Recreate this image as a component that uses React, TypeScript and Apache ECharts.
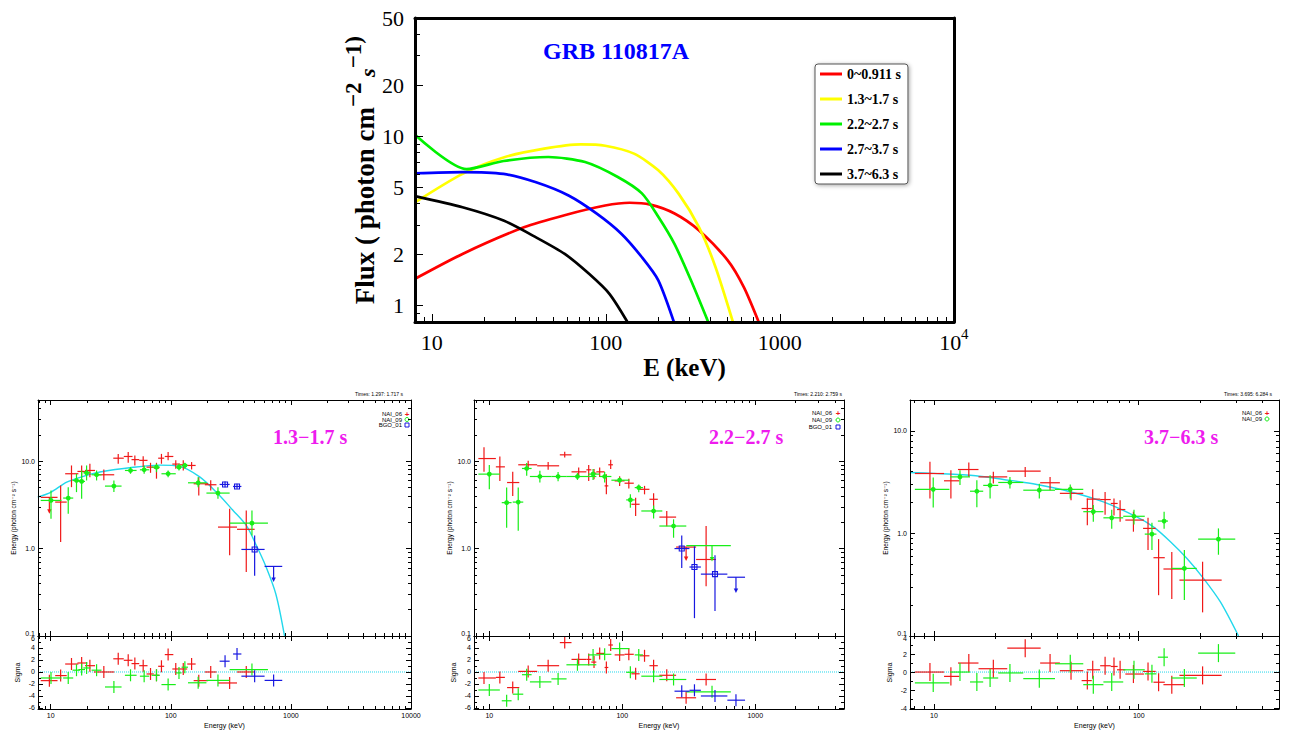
import React, { useEffect, useRef } from "react";
import * as echarts from "echarts";

const lg = (v: number) => Math.log10(v);
const SERIF = "'Liberation Serif', 'Times New Roman', serif";
const SANS = "'Liberation Sans', 'DejaVu Sans', Arial, sans-serif";

// ================= TOP PANEL: model spectra, [E (keV), flux] =================
const TOP_NAMES = ["0~0.911 s", "1.3~1.7 s", "2.2~2.7 s", "2.7~3.7 s", "3.7~6.3 s"];
const TOP_COLORS = ["#ff0000", "#ffff00", "#00f000", "#0000ff", "#000000"];
const TOP_0_0911 = [[8, 1.44], [15, 2.02], [33.8, 2.9], [57.9, 3.42], [99, 3.9], [137, 4.05], [180, 3.95], [248, 3.5], [343, 2.78], [501, 1.85], [621, 1.28], [770, 0.76]];
const TOP_13_17 = [[8, 4.07], [15, 6.0], [25.8, 7.5], [44.2, 8.45], [71.8, 8.95], [99, 8.8], [145, 7.9], [200, 6.3], [262, 4.57], [343, 2.9], [426, 1.69], [545, 0.76]];
const TOP_22_27 = [[8, 10.2], [15.8, 6.4], [25.8, 7.15], [46.7, 7.55], [75.9, 7.05], [117, 5.75], [161, 4.6], [200, 3.35], [248, 2.31], [308, 1.41], [395, 0.76]];
const TOP_27_37 = [[8, 6.05], [15, 6.15], [25.8, 6.0], [39.7, 5.35], [61, 4.47], [89, 3.48], [123, 2.65], [161, 1.93], [200, 1.41], [250, 0.76]];
const TOP_37_63 = [[8, 4.43], [15, 3.81], [25.8, 3.18], [39.7, 2.53], [58, 2.02], [80, 1.54], [105, 1.17], [137, 0.76]];
const TOP_E_RANGE = [8, 10000];
const TOP_F_RANGE = [0.8, 50];
const TOP_X_LABELS = [10, 100, 1000, 10000];
const TOP_Y_LABELS = [1, 2, 5, 10, 20, 50];
const TOP_Y_MINOR = [0.9, 3, 4, 6, 7, 8, 9, 30, 40];

// ================= BOTTOM PANELS =================
// crosses: [E, Elo, Ehi, F, Flo, Fhi, sigma]; upper limits: [E, Elo, Ehi, F, Farrow, sigma]
const P1_NAI06 = [
  [12.1, 10.9, 13.6, 3.40, 1.19, 5.27, -0.6], [14.9, 13.2, 17.0, 7.17, 5.04, 8.92, 1.33],
  [18.1, 16.7, 20.2, 7.62, 6.56, 8.92, 1.5], [21.2, 19.3, 23.4, 7.82, 6.56, 9.33, 1.05],
  [27.7, 22.9, 33.8, 6.98, 6.03, 8.03, 0], [36.5, 33.2, 40.6, 10.8, 9.33, 12.1, 2.2],
  [44.2, 40.6, 48.0, 11.3, 9.57, 12.7, 1.95], [50.2, 47.1, 54.6, 10.4, 8.92, 11.6, 1.4],
  [58.9, 54.6, 64.0, 10.2, 8.53, 11.4, 1.05], [67.8, 62.8, 72.2, 8.53, 7.35, 9.57, -0.33],
  [76.0, 72.2, 80.0, 8.32, 6.3, 9.57, -0.55], [83.6, 78.5, 88.1, 10.8, 9.33, 12.1, 0.95],
  [95.0, 89.1, 105, 11.3, 10.2, 12.7, 2.9], [110, 103, 119, 9.25, 8.17, 10.2, 0.5],
  [127, 119, 137, 9.08, 7.82, 10.2, 0.5], [149, 137, 161, 8.92, 8.03, 9.75, 1.33],
  [171, 155, 204, 5.51, 4.05, 6.56, -1.44], [215, 192, 240, 5.37, 4.62, 6.03, 0],
  [309, 247, 356, 1.76, 0.836, 2.85, -1.83], [425, 356, 499, 1.66, 0.54, 2.73, 0],
];
const P1_NAI06_UL = [[9.75, 8.26, 11.4, 3.85, 2.5, -1.44]];
const P1_NAI09 = [
  [10.06, 8.26, 12.3, 3.55, 2.19, 4.62, -1.0], [14.0, 12.7, 15.4, 3.78, 2.5, 5.04, -1.0],
  [16.4, 15.2, 17.5, 6.0, 4.42, 7.17, 0.3], [18.1, 17.0, 19.3, 5.86, 3.71, 7.82, 0.4],
  [19.9, 18.7, 21.5, 7.35, 6.01, 8.92, 0.67], [24.1, 21.9, 26.5, 6.98, 6.01, 7.82, 0.3],
  [33.6, 28.3, 38.9, 5.18, 4.42, 6.01, -2.5], [46.2, 41.5, 51.9, 7.82, 7.17, 8.53, -0.55],
  [60.0, 55.3, 66.1, 7.96, 7.17, 8.92, -0.7], [76.0, 69.1, 81.1, 8.53, 7.48, 9.33, -0.55],
  [95.0, 83.6, 110, 7.17, 6.56, 7.82, -2.1], [117, 110, 123, 8.53, 7.82, 9.33, -0.15],
  [131, 123, 139, 8.92, 8.17, 9.57, 0.8], [169, 139, 198, 5.65, 5.04, 6.56, -1.8],
  [247, 198, 309, 4.31, 3.71, 5.04, -1.4], [474, 309, 644, 1.95, 1.41, 2.73, 0.4],
];
const P1_BGO01 = [
  [283, 255, 309, 5.41, 5.04, 5.86, 1.8], [356, 330, 387, 5.13, 4.83, 5.51, 3.0],
  [499, 387, 604, 0.977, 0.49, 1.41, -0.7],
];
const P1_BGO01_UL = [[718, 604, 847, 0.625, 0.414, -1.4]];
const P1_MODEL = [[7.8, 3.88], [10, 4.4], [13.6, 5.75], [18.7, 6.7], [25.7, 7.5], [48.7, 8.5], [81, 9.0], [119, 8.7], [174, 6.6], [240, 4.4], [330, 2.73], [425, 1.84], [515, 1.09], [620, 0.62], [750, 0.3], [885, 0.1]];

const P2_NAI06 = [
  [9.12, 8.27, 11.2, 10.7, 7.54, 14.4, -1.0], [12.0, 11.2, 13.1, 8.6, 5.94, 11.3, -0.9],
  [15.0, 13.6, 16.8, 5.69, 4.0, 7.54, -2.6], [19.6, 16.5, 22.9, 9.08, 8.1, 10.1, 0.1],
  [27.7, 22.9, 33.5, 8.84, 7.95, 9.8, 1.05], [36.9, 33.9, 41.5, 11.8, 11.0, 12.8, 4.9],
  [47.0, 41.5, 53.7, 7.54, 6.66, 8.45, 2.1], [55.9, 53.7, 58.5, 7.95, 5.94, 9.0, 2.1],
  [61.3, 58.5, 63.8, 7.28, 6.2, 8.1, 1.65], [67.6, 63.8, 73.6, 7.54, 6.6, 8.45, 3.1],
  [75.9, 73.6, 78.5, 5.21, 4.17, 7.09, 0.75], [81.8, 78.5, 85, 9.08, 8.1, 10.4, 4.5],
  [95.5, 87.6, 104, 5.94, 5.2, 6.7, 2.85], [112, 104, 122, 5.59, 4.85, 6.3, 2.95],
  [126, 117, 135, 3.21, 2.35, 3.82, -0.3], [147, 135, 160, 4.76, 4.17, 5.21, 2.7],
  [172, 160, 185, 3.66, 2.69, 4.28, 1.05], [216, 190, 254, 2.29, 1.8, 2.69, -0.55],
  [427, 359, 507, 0.75, 0.37, 1.81, -1.25],
];
const P2_NAI06_UL = [[302, 254, 359, 1.04, 0.72, -4.3]];
const P2_NAI09 = [
  [10.0, 8.27, 12.0, 7.1, 4.76, 9.0, -3.0], [13.5, 12.4, 14.7, 3.35, 1.73, 4.98, -4.8],
  [16.5, 15.0, 18.0, 3.4, 1.6, 4.98, -3.7], [19.1, 17.6, 20.8, 8.24, 6.8, 9.5, -0.45],
  [24.0, 20.2, 29.3, 6.67, 5.69, 7.75, -1.65], [32.9, 29.3, 38.1, 6.67, 5.9, 7.5, -1.15],
  [46.0, 38.0, 63.8, 6.67, 6.1, 7.3, 1.2], [60.3, 55.2, 67.6, 7.1, 6.1, 8.1, 2.85],
  [73.7, 67.6, 82.8, 6.67, 5.69, 7.5, 2.95], [95.5, 82.8, 113, 6.05, 5.6, 6.5, 3.9],
  [115, 107, 124, 3.6, 2.93, 4.17, -0.05], [133, 124, 143, 4.98, 4.4, 5.4, 2.85],
  [172, 139, 200, 2.69, 2.2, 3.1, -0.7], [243, 190, 303, 1.81, 1.33, 2.16, -1.25],
];
const P2_NAI09_UL = [[473, 303, 655, 1.08, 0.71, -3.3]];
const P2_BGO01 = [
  [280, 247, 320, 1.0, 0.6, 1.41, -3.2], [349, 320, 390, 0.615, 0.16, 1.06, -3.05],
  [498, 390, 617, 0.51, 0.193, 0.837, -4.0],
];
const P2_BGO01_UL = [[716, 617, 838, 0.47, 0.31, -4.7]];

const P3_NAI06 = [
  [9.56, 8.07, 11.2, 3.84, 2.19, 4.99, 0], [12.1, 11.2, 13.3, 3.26, 2.19, 4.14, -0.48],
  [14.8, 13.1, 16.5, 4.2, 3.56, 4.91, 1.0], [19.5, 16.5, 22.8, 3.56, 3.07, 3.99, 0.37],
  [27.9, 22.8, 33.2, 4.05, 3.56, 4.45, 2.65], [36.9, 33.0, 41.2, 3.12, 2.63, 3.56, 1.0],
  [46.7, 41.2, 53.6, 2.46, 2.11, 2.85, 0.15], [56.1, 52.6, 59.0, 1.75, 1.2, 2.19, -0.95],
  [59.6, 55.8, 64.8, 2.16, 1.52, 2.7, 0.25], [68.5, 64.8, 73.0, 2.14, 1.52, 2.53, 0.7],
  [75.7, 73.0, 78.9, 1.96, 1.5, 2.19, 0.62], [81.1, 78.3, 86.0, 1.71, 1.3, 2.11, 0.25],
  [94.2, 86, 106, 1.35, 1.04, 1.63, -0.22], [111, 105, 121, 1.12, 0.69, 1.42, 0.07],
  [125, 118, 134, 0.58, 0.25, 0.88, -1.13], [145, 132, 168, 0.45, 0.23, 0.66, -1.4],
  [205, 158, 254, 0.35, 0.17, 0.53, -0.37],
];
const P3_NAI09 = [
  [9.92, 8.07, 11.9, 2.69, 1.79, 3.51, -1.2], [13.4, 12.0, 15.0, 3.56, 2.96, 4.14, 0],
  [16.2, 15.0, 17.4, 2.58, 1.8, 3.3, -1.1], [18.8, 17.4, 20.6, 2.94, 2.19, 3.7, -0.66],
  [23.5, 20.6, 27.3, 3.14, 2.74, 3.56, -0.1], [32.7, 27.3, 39.0, 2.64, 2.19, 3.05, -0.73],
  [46.3, 39.0, 53.6, 2.69, 2.19, 3.0, 0.92], [60.0, 53.6, 67.2, 1.63, 1.3, 1.89, -1.4],
  [73.8, 67.2, 84.0, 1.42, 1.11, 1.7, -1.1], [94.8, 84.0, 107, 1.47, 1.22, 1.7, 0.25],
  [116, 107, 122, 0.985, 0.69, 1.27, -0.2], [133, 124, 139, 1.32, 1.11, 1.63, 1.65],
  [167, 144, 192, 0.456, 0.224, 0.69, -0.66], [245, 195, 296, 0.88, 0.62, 1.12, 2.1],
];
const P3_MODEL = [[7.64, 3.93], [10, 3.85], [16, 3.65], [21.8, 3.36], [31.8, 3.0], [46.2, 2.55], [67.2, 2.03], [97.7, 1.45], [118, 1.16], [142, 0.84], [172, 0.57], [207, 0.365], [250, 0.216], [307, 0.1]];

const P1_E_RANGE = [7.84, 10000];
const P2_E_RANGE = [7.67, 4650];
const P3_E_RANGE = [7.64, 484];
const P1_F_RANGE = [0.1, 50];
const P2_F_RANGE = [0.1, 50];
const P3_F_RANGE = [0.1, 20];
const P1_SIG_RANGE = [-6.17, 6];
const P2_SIG_RANGE = [-6.17, 6];
const P3_SIG_RANGE = [-4.1, 4];
const P1_E_LABELS = [10, 100, 1000, 10000];
const P2_E_LABELS = [10, 100, 1000];
const P3_E_LABELS = [10, 100];
const F_LABELS = [0.1, 1, 10];
const P1_SIG_LABELS = [-6, -4, -2, 0, 2, 4, 6];
const P3_SIG_LABELS = [-4, -2, 0, 2, 4];
const P1_SIG_MINOR = [-5, -3, -1, 1, 3, 5];
const P3_SIG_MINOR = [-3, -1, 1, 3];

const RED = "#f01818";
const GREEN = "#18ee18";
const BLUE = "#1818e0";
const CYAN = "#22d8ec";

function logTicks(lo: number, hi: number) {
  const major: number[] = [];
  const minor: number[] = [];
  for (let n = Math.floor(lo) - 1; n <= Math.ceil(hi); n++) {
    for (let k = 1; k <= 9; k++) {
      const v = n + Math.log10(k);
      if (v < lo - 1e-6 || v > hi + 1e-6) continue;
      (k === 1 ? major : minor).push(v);
    }
  }
  return { major, minor };
}

// lineW > 0 draws the frame side with the axis line
function tickAxis(gridIndex: number, position: string, min: number, max: number, ticks: number[] | null, length: number, lineW: number, extra: any = {}) {
  return {
    type: "value", gridIndex, position, min, max, z: 5,
    axisLine: { show: lineW > 0, onZero: false, lineStyle: { color: "#000", width: lineW || 1 } },
    splitLine: { show: false },
    axisTick: ticks
      ? { show: true, inside: true, length, customValues: ticks, lineStyle: { color: "#000", width: 1 } }
      : { show: false },
    axisLabel: { show: false },
    ...extra,
  };
}

const LW = 1.2;
function crossItem(color: string, marker: string) {
  return (params: any, api: any) => {
    const x = api.value(0), y = api.value(3);
    const c = api.coord([x, y]);
    const l = api.coord([api.value(1), y]);
    const r = api.coord([api.value(2), y]);
    const lo = api.coord([x, api.value(4)]);
    const hi = api.coord([x, api.value(5)]);
    const ch: any[] = [
      { type: "line", shape: { x1: l[0], y1: c[1], x2: r[0], y2: c[1] }, style: { stroke: color, lineWidth: LW } },
      { type: "line", shape: { x1: c[0], y1: lo[1], x2: c[0], y2: hi[1] }, style: { stroke: color, lineWidth: LW } },
    ];
    if (marker === "dot") ch.push({ type: "circle", shape: { cx: c[0], cy: c[1], r: 2.4 }, style: { fill: color } });
    if (marker === "square") ch.push({ type: "rect", shape: { x: c[0] - 2.5, y: c[1] - 2.5, width: 5, height: 5 }, style: { fill: "none", stroke: color, lineWidth: 1.1 } });
    return { type: "group", children: ch };
  };
}
function ulItem(color: string) {
  return (params: any, api: any) => {
    const x = api.value(0), y = api.value(3);
    const c = api.coord([x, y]);
    const l = api.coord([api.value(1), y]);
    const r = api.coord([api.value(2), y]);
    const tip = api.coord([x, api.value(4)]);
    return {
      type: "group",
      children: [
        { type: "line", shape: { x1: l[0], y1: c[1], x2: r[0], y2: c[1] }, style: { stroke: color, lineWidth: LW } },
        { type: "line", shape: { x1: c[0], y1: c[1], x2: c[0], y2: tip[1] - 3 }, style: { stroke: color, lineWidth: LW } },
        { type: "polygon", shape: { points: [[c[0] - 2.2, tip[1] - 4.5], [c[0] + 2.2, tip[1] - 4.5], [c[0], tip[1]]] }, style: { fill: color } },
      ],
    };
  };
}
function resItem(color: string) {
  return (params: any, api: any) => {
    const x = api.value(0), s = api.value(3);
    const c = api.coord([x, s]);
    const l = api.coord([api.value(1), s]);
    const r = api.coord([api.value(2), s]);
    const t = api.coord([x, s + 1]);
    const b = api.coord([x, s - 1]);
    return {
      type: "group",
      children: [
        { type: "line", shape: { x1: l[0], y1: c[1], x2: r[0], y2: c[1] }, style: { stroke: color, lineWidth: LW } },
        { type: "line", shape: { x1: c[0], y1: b[1], x2: c[0], y2: t[1] }, style: { stroke: color, lineWidth: LW } },
      ],
    };
  };
}

const PANELS = [
  { left: 38, width: 373, er: P1_E_RANGE, fr: P1_F_RANGE, sr: P1_SIG_RANGE, el: P1_E_LABELS, sl: P1_SIG_LABELS, sm: P1_SIG_MINOR,
    red: P1_NAI06, redUL: P1_NAI06_UL, green: P1_NAI09, greenUL: [] as number[][], blue: P1_BGO01, blueUL: P1_BGO01_UL, model: P1_MODEL,
    label: "1.3\u22121.7 s", labelX: 273, times: "Times: 1.297: 1.717 s", timesX: 403, legX: 402, symX: 407, legY: [414, 419.5, 425], dets: ["NAI_06", "NAI_09", "BGO_01"] },
  { left: 474, width: 370, er: P2_E_RANGE, fr: P2_F_RANGE, sr: P2_SIG_RANGE, el: P2_E_LABELS, sl: P1_SIG_LABELS, sm: P1_SIG_MINOR,
    red: P2_NAI06, redUL: P2_NAI06_UL, green: P2_NAI09, greenUL: P2_NAI09_UL, blue: P2_BGO01, blueUL: P2_BGO01_UL, model: [] as number[][],
    label: "2.2\u22122.7 s", labelX: 709, times: "Times: 2.210: 2.759 s", timesX: 842, legX: 832, symX: 838, legY: [413, 420, 427], dets: ["NAI_06", "NAI_09", "BGO_01"] },
  { left: 910, width: 369, er: P3_E_RANGE, fr: P3_F_RANGE, sr: P3_SIG_RANGE, el: P3_E_LABELS, sl: P3_SIG_LABELS, sm: P3_SIG_MINOR,
    red: P3_NAI06, redUL: [] as number[][], green: P3_NAI09, greenUL: [] as number[][], blue: [] as number[][], blueUL: [] as number[][], model: P3_MODEL,
    label: "3.7\u22126.3 s", labelX: 1144, times: "Times: 3.695: 6.284 s", timesX: 1272, legX: 1262, symX: 1267, legY: [413, 419], dets: ["NAI_06", "NAI_09"] },
];

function buildOption() {
  const grid: any[] = [];
  const xAxis: any[] = [];
  const yAxis: any[] = [];
  const series: any[] = [];
  const graphic: any[] = [];
  const addX = (a: any) => { xAxis.push(a); return xAxis.length - 1; };
  const addY = (a: any) => { yAxis.push(a); return yAxis.length - 1; };

  // ---------- top chart ----------
  grid.push({ left: 415, top: 18, width: 539, height: 304, show: false });
  const tx0 = lg(TOP_E_RANGE[0]), tx1 = lg(TOP_E_RANGE[1]);
  const ty0 = lg(TOP_F_RANGE[0]), ty1 = lg(TOP_F_RANGE[1]);
  const tt = logTicks(tx0, tx1);
  const txi = addX(tickAxis(0, "bottom", tx0, tx1, tt.major, 8, 3, {
    axisLabel: {
      show: true, customValues: TOP_X_LABELS.map(lg), margin: 4,
      formatter: (v: number) => {
        const n = Math.round(Math.pow(10, v));
        return n === 10000 ? "{m|10}{e|4}{z| }" : "{m|" + n + "}{z| }";
      },
      rich: {
        m: { fontFamily: SERIF, fontSize: 22, lineHeight: 22, verticalAlign: "bottom", color: "#000" },
        e: { fontFamily: SERIF, fontSize: 15, lineHeight: 15, verticalAlign: "top", color: "#000" },
        z: { fontSize: 1, lineHeight: 27 },
      },
    },
    name: "E (keV)", nameLocation: "middle", nameGap: 33,
    nameTextStyle: { fontFamily: SERIF, fontWeight: "bold", fontSize: 25, color: "#000" },
  }));
  addX(tickAxis(0, "bottom", tx0, tx1, tt.minor, 5, 0));
  addX(tickAxis(0, "top", tx0, tx1, null, 0, 3));
  const tyi = addY(tickAxis(0, "left", ty0, ty1, TOP_Y_LABELS.map(lg), 8, 3, {
    axisLabel: {
      show: true, customValues: TOP_Y_LABELS.map(lg), margin: 11,
      formatter: (v: number) => String(Math.round(Math.pow(10, v))),
      fontFamily: SERIF, fontSize: 22, color: "#000",
    },
    name: "{b|Flux ( photon cm}{s|\u22122}{i| s}{s|\u22121}{s|)}{z| }",
    nameLocation: "middle", nameGap: 23, nameRotate: 90,
    nameTextStyle: {
      rich: {
        b: { fontFamily: SERIF, fontWeight: "bold", fontSize: 27, lineHeight: 27, verticalAlign: "bottom", color: "#000" },
        s: { fontFamily: SERIF, fontWeight: "bold", fontSize: 23, lineHeight: 23, verticalAlign: "top", color: "#000" },
        i: { fontFamily: SERIF, fontWeight: "bold", fontStyle: "italic", fontSize: 22, lineHeight: 27, verticalAlign: "bottom", color: "#000" },
        z: { fontSize: 1, lineHeight: 36 },
      },
    },
  }));
  addY(tickAxis(0, "left", ty0, ty1, TOP_Y_MINOR.map(lg), 5, 0));
  addY(tickAxis(0, "right", ty0, ty1, null, 0, 3));

  const topCurves = [TOP_0_0911, TOP_13_17, TOP_22_27, TOP_27_37, TOP_37_63];
  topCurves.forEach((pts, i) => {
    series.push({
      name: TOP_NAMES[i], type: "line", xAxisIndex: txi, yAxisIndex: tyi,
      data: pts.map((p) => [lg(p[0]), lg(p[1])]),
      symbol: "none", smooth: 0.25, clip: true, silent: true,
      lineStyle: { width: 2.7, color: TOP_COLORS[i] }, itemStyle: { color: TOP_COLORS[i] }, z: 3,
    });
  });
  graphic.push({
    type: "text", x: 616, y: 51,
    style: { text: "GRB 110817A", fill: "#0000ff", font: "bold 24px " + SERIF, textAlign: "center", textVerticalAlign: "middle" },
  });

  // ---------- bottom panels ----------
  PANELS.forEach((P) => {
    const gm = grid.length;
    grid.push({ left: P.left, top: 400, width: P.width, height: 236, show: false });
    const gr = grid.length;
    grid.push({ left: P.left, top: 636, width: P.width, height: 73, show: false });
    const x0 = lg(P.er[0]), x1 = lg(P.er[1]);
    const y0 = lg(P.fr[0]), y1 = lg(P.fr[1]);
    const xt = logTicks(x0, x1);
    const yt = logTicks(y0, y1);
    const smallLab = { fontFamily: SANS, fontSize: 7, color: "#000" };
    const sigTop = P.sl[P.sl.length - 1];

    const xm = addX(tickAxis(gm, "bottom", x0, x1, xt.major, 5, 1));
    addX(tickAxis(gm, "bottom", x0, x1, xt.minor, 3, 0));
    addX(tickAxis(gm, "top", x0, x1, xt.major, 5, 1));
    addX(tickAxis(gm, "top", x0, x1, xt.minor, 3, 0));
    const xr = addX(tickAxis(gr, "bottom", x0, x1, xt.major, 5, 1, {
      axisLabel: { show: true, customValues: P.el.map(lg), margin: 3, formatter: (v: number) => String(Math.round(Math.pow(10, v))), ...smallLab },
      name: "Energy (keV)", nameLocation: "middle", nameGap: 13,
      nameTextStyle: { fontFamily: SANS, fontSize: 7, color: "#000" },
    }));
    addX(tickAxis(gr, "bottom", x0, x1, xt.minor, 3, 0));
    addX(tickAxis(gr, "top", x0, x1, xt.major, 5, 1));
    addX(tickAxis(gr, "top", x0, x1, xt.minor, 3, 0));

    const ym = addY(tickAxis(gm, "left", y0, y1, yt.major, 5, 1, {
      axisLabel: {
        show: true, customValues: F_LABELS.map(lg), margin: 3,
        formatter: (v: number) => {
          const s = Math.pow(10, v).toFixed(1);
          return v < -0.5 ? "{lo|" + s + "}" : s;
        },
        rich: { lo: { fontFamily: SANS, fontSize: 7, color: "#000", padding: [0, 0, 5, 0] } },
        ...smallLab,
      },
      name: "Energy (photon cm\u207B\u00B2 s\u207B\u00B9)", nameLocation: "middle", nameGap: 21, nameRotate: 90,
      nameTextStyle: { fontFamily: SANS, fontSize: 6.5, color: "#000" },
    }));
    addY(tickAxis(gm, "left", y0, y1, yt.minor, 3, 0));
    addY(tickAxis(gm, "right", y0, y1, yt.major, 5, 1));
    addY(tickAxis(gm, "right", y0, y1, yt.minor, 3, 0));
    const yr = addY(tickAxis(gr, "left", P.sr[0], P.sr[1], P.sl, 5, 1, {
      axisLabel: {
        show: true, customValues: P.sl, margin: 3,
        formatter: (v: number) => {
          const s = String(Math.round(v));
          return Math.round(v) === sigTop ? "{hi|" + s + "}" : s;
        },
        rich: { hi: { fontFamily: SANS, fontSize: 7, color: "#000", padding: [5, 0, 0, 0] } },
        ...smallLab,
      },
      name: "Sigma", nameLocation: "middle", nameGap: 17, nameRotate: 90,
      nameTextStyle: { fontFamily: SANS, fontSize: 7, color: "#000" },
    }));
    addY(tickAxis(gr, "left", P.sr[0], P.sr[1], P.sm, 3, 0));
    addY(tickAxis(gr, "right", P.sr[0], P.sr[1], P.sl, 5, 1));
    addY(tickAxis(gr, "right", P.sr[0], P.sr[1], P.sm, 3, 0));

    // zero line in residual panel
    series.push({
      type: "line", xAxisIndex: xr, yAxisIndex: yr, data: [[x0, 0], [x1, 0]], symbol: "none", silent: true,
      lineStyle: { color: CYAN, width: 1, type: "dotted" }, z: 1,
    });
    if (P.model.length) {
      series.push({
        type: "line", xAxisIndex: xm, yAxisIndex: ym, data: P.model.map((p) => [lg(p[0]), lg(p[1])]),
        symbol: "none", smooth: 0.3, clip: true, silent: true, lineStyle: { color: CYAN, width: 1.4 }, z: 2,
      });
    }
    const dets: [number[][], number[][], string, string][] = [
      [P.red, P.redUL, RED, "none"],
      [P.green, P.greenUL, GREEN, "dot"],
      [P.blue, P.blueUL, BLUE, "square"],
    ];
    dets.forEach(([pts, uls, color, marker]) => {
      if (pts.length) {
        series.push({
          type: "custom", xAxisIndex: xm, yAxisIndex: ym, renderItem: crossItem(color, marker), silent: true, z: 4,
          encode: { x: [0, 1, 2], y: [3, 4, 5] },
          data: pts.map((d) => [lg(d[0]), lg(d[1]), lg(d[2]), lg(d[3]), lg(d[4]), lg(d[5])]),
        });
        series.push({
          type: "custom", xAxisIndex: xr, yAxisIndex: yr, renderItem: resItem(color), silent: true, z: 4,
          encode: { x: [0, 1, 2], y: 3 },
          data: pts.map((d) => [lg(d[0]), lg(d[1]), lg(d[2]), d[6]]),
        });
      }
      if (uls.length) {
        series.push({
          type: "custom", xAxisIndex: xm, yAxisIndex: ym, renderItem: ulItem(color), silent: true, z: 4,
          encode: { x: [0, 1, 2], y: [3, 4] },
          data: uls.map((d) => [lg(d[0]), lg(d[1]), lg(d[2]), lg(d[3]), lg(d[4])]),
        });
        series.push({
          type: "custom", xAxisIndex: xr, yAxisIndex: yr, renderItem: resItem(color), silent: true, z: 4,
          encode: { x: [0, 1, 2], y: 3 },
          data: uls.map((d) => [lg(d[0]), lg(d[1]), lg(d[2]), d[5]]),
        });
      }
    });

    // annotations
    graphic.push({ type: "text", x: P.labelX, y: 437, style: { text: P.label, fill: "#ee1cee", font: "bold 20px " + SERIF, textAlign: "left", textVerticalAlign: "middle" } });
    graphic.push({ type: "text", x: P.timesX, y: 394, style: { text: P.times, fill: "#000", font: "5px " + SANS, textAlign: "right", textVerticalAlign: "middle" } });
    const symColors = [RED, GREEN, BLUE];
    P.dets.forEach((d, k) => {
      const yy = P.legY[k];
      graphic.push({ type: "text", x: P.legX, y: yy, style: { text: d, fill: "#000", font: "6px " + SANS, textAlign: "right", textVerticalAlign: "middle" } });
      if (k === 0) graphic.push({ type: "text", x: P.symX, y: yy, style: { text: "+", fill: symColors[k], font: "bold 8px " + SANS, textAlign: "center", textVerticalAlign: "middle" } });
      if (k === 1) graphic.push({ type: "circle", shape: { cx: P.symX, cy: yy, r: 2 }, style: { fill: "none", stroke: symColors[k], lineWidth: 1 } });
      if (k === 2) graphic.push({ type: "rect", shape: { x: P.symX - 2, y: yy - 2, width: 4, height: 4 }, style: { fill: "none", stroke: symColors[k], lineWidth: 1 } });
    });
  });

  return {
    animation: false,
    backgroundColor: "#ffffff",
    legend: {
      data: TOP_NAMES, orient: "vertical", left: 815, top: 64,
      icon: "rect", itemWidth: 22, itemHeight: 3, itemGap: 11, padding: [3, 7, 3, 5],
      backgroundColor: "#fff", borderColor: "#555", borderWidth: 1, borderRadius: 3,
      shadowBlur: 4, shadowColor: "rgba(0,0,0,0.35)", shadowOffsetX: 1, shadowOffsetY: 1,
      textStyle: { fontFamily: SERIF, fontWeight: "bold", fontSize: 14, color: "#000" },
      selectedMode: false,
    },
    grid, xAxis, yAxis, series, graphic,
  };
}

export default function App() {
  const ref = useRef<HTMLDivElement>(null);
  useEffect(() => {
    const chart = echarts.init(ref.current as HTMLDivElement, null, { renderer: "svg" });
    chart.setOption(buildOption() as any);
    return () => chart.dispose();
  }, []);
  return <div ref={ref} style={{ position: "fixed", left: 0, top: 0, width: 1289, height: 731, background: "#fff" }} />;
}
